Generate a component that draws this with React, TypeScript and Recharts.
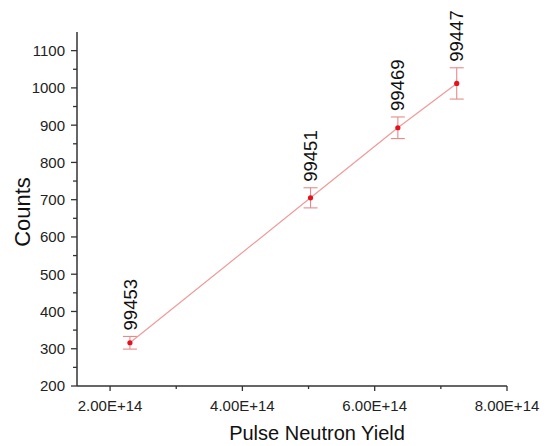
import React from 'react';
import { ScatterChart, Scatter, XAxis, YAxis, ErrorBar } from 'recharts';

const yields = [2.3e14, 5.03e14, 6.35e14, 7.24e14];
const counts = [316, 705, 893, 1012];
const errors = [17, 27, 29, 42];
const shotLabels = ['99453', '99451', '99469', '99447'];
const xTicks = [2e14, 3e14, 4e14, 5e14, 6e14, 7e14, 8e14];
const xMajor = [2e14, 4e14, 6e14, 8e14];
const yTicks = [200, 250, 300, 350, 400, 450, 500, 550, 600, 650, 700, 750, 800, 850, 900, 950, 1000, 1050, 1100];
const yMajor = [200, 300, 400, 500, 600, 700, 800, 900, 1000, 1100];

const data = yields.map((x, i) => ({ x, y: counts[i], err: errors[i] }));
const labelData = yields.map((x, i) => ({ x, y: counts[i] + errors[i], label: shotLabels[i] }));

const FONT = 'Liberation Sans, Arial, sans-serif';
const AXIS = '#333';
const Y_TICK_SIZE = 6;
const Y_TICK_MARGIN = 6;
const X_TICK_SIZE = 5;
const X_TICK_MARGIN = 9;

const fmtX = (v: number) => (v / 1e14).toFixed(2) + 'E+14';

const YTick = (props: any) => {
  const { x, y, payload } = props;
  const major = yMajor.includes(payload.value);
  const axisX = x + Y_TICK_SIZE + Y_TICK_MARGIN;
  return (
    <g>
      <line x1={axisX} x2={axisX - (major ? 6 : 4)} y1={y} y2={y} stroke={AXIS} strokeWidth={1.3} />
      {major && (
        <text x={x} y={y} dy="0.36em" textAnchor="end" fontSize={15} fontFamily={FONT} fill="#222">
          {payload.value}
        </text>
      )}
    </g>
  );
};

const XTick = (props: any) => {
  const { x, y, payload } = props;
  const major = xMajor.includes(payload.value);
  const axisY = y - X_TICK_SIZE - X_TICK_MARGIN;
  return (
    <g>
      <line x1={x} x2={x} y1={axisY} y2={axisY + (major ? 5 : 3)} stroke={AXIS} strokeWidth={1.3} />
      {major && (
        <text x={x} y={y} dy="0.71em" textAnchor="middle" fontSize={15} fontFamily={FONT} fill="#222">
          {fmtX(payload.value)}
        </text>
      )}
    </g>
  );
};

const PointShape = (props: any) => (
  <circle cx={props.cx} cy={props.cy} r={2.6} fill="#e8101a" />
);

const LabelShape = (props: any) => {
  const { cx, cy, payload } = props;
  const ty = cy - 6;
  return (
    <text
      x={cx}
      y={ty}
      transform={`rotate(-90 ${cx} ${ty})`}
      textAnchor="start"
      dy="0.36em"
      fontSize={18.5}
      fontFamily={FONT}
      fill="#111"
    >
      {payload.label}
    </text>
  );
};

const YTitle = (props: any) => {
  const vb = props.viewBox || {};
  const cx = (vb.x || 0) + 22;
  const cy = (vb.y || 0) + (vb.height || 0) / 2 + 3;
  return (
    <text x={cx} y={cy} transform={`rotate(-90 ${cx} ${cy})`} textAnchor="middle" dy="0.36em" fontSize={22} fontFamily={FONT} fill="#111">
      Counts
    </text>
  );
};

const XTitle = (props: any) => {
  const vb = props.viewBox || {};
  const cx = (vb.x || 0) + (vb.width || 0) / 2 + 25;
  const cy = (vb.y || 0) + 54;
  return (
    <text x={cx} y={cy} textAnchor="middle" fontSize={20} fontFamily={FONT} fill="#111">
      Pulse Neutron Yield
    </text>
  );
};

export default function App() {
  return (
    <div style={{ position: 'absolute', left: 0, top: 0, width: 550, height: 446, background: '#fff' }}>
      <ScatterChart width={550} height={446} margin={{ top: 32, right: 43, bottom: 0, left: 0 }} style={{ overflow: 'visible' }}>
        <XAxis
          type="number"
          dataKey="x"
          domain={[1.5e14, 8e14]}
          ticks={xTicks}
          interval={0}
          height={60}
          tickSize={X_TICK_SIZE}
          tickMargin={X_TICK_MARGIN}
          tickLine={false}
          tick={<XTick />}
          axisLine={{ stroke: AXIS, strokeWidth: 1.5 }}
          label={<XTitle />}
        />
        <YAxis
          type="number"
          dataKey="y"
          domain={[200, 1150]}
          ticks={yTicks}
          interval={0}
          width={77}
          tickSize={Y_TICK_SIZE}
          tickMargin={Y_TICK_MARGIN}
          tickLine={false}
          tick={<YTick />}
          axisLine={{ stroke: AXIS, strokeWidth: 1.5 }}
          label={<YTitle />}
        />
        <Scatter
          data={data}
          line={{ stroke: '#f09a9a', strokeWidth: 1.2 }}
          lineType="joint"
          shape={<PointShape />}
          isAnimationActive={false}
        >
          <ErrorBar dataKey="err" direction="y" width={7} stroke="#e88a8a" strokeWidth={1.1} isAnimationActive={false} />
        </Scatter>
        <Scatter data={labelData} shape={<LabelShape />} isAnimationActive={false} />
      </ScatterChart>
    </div>
  );
}
